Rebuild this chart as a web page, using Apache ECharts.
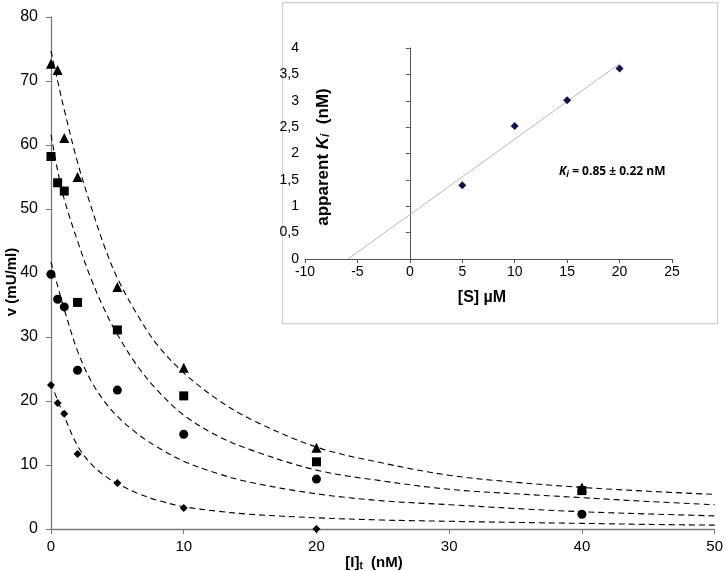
<!DOCTYPE html>
<html>
<head>
<meta charset="utf-8">
<script src="https://cdn.jsdelivr.net/npm/echarts@6/dist/echarts.min.js"></script>
<style>
html,body{margin:0;padding:0;background:#fff;}
#c{width:726px;height:571px;}
</style>
</head>
<body>
<div id="c"></div>
<script>
// ---- main plot data ----
const inhibX = [0, 0.5, 1, 2, 5, 10, 20, 40];
const triangleV = [72.7, 71.7, 61.1, 55.0, 37.8, 25.2, 12.7, 6.5];
const squareV = [58.2, 54.1, 52.8, 35.4, 31.1, 20.8, 10.5, 6.0];
const circleV = [39.8, 35.9, 34.7, 24.8, 21.7, 14.8, 7.8, 2.3];
const diamondX = [0, 0.5, 1, 2, 5, 10, 20];
const diamondV = [22.5, 19.7, 18.0, 11.7, 7.2, 3.3, 0.0];

// fitted curves
const curveX = [0, 0.5, 1, 2, 3, 4, 5, 6.5, 8, 10, 12.5, 15, 20, 25, 30, 35, 40, 45, 50];
const triangleFit = [74.7, 70.0, 65.5, 57.3, 50.5, 44.3, 39.2, 33.5, 28.8, 24.4, 20.3, 17.2, 12.8, 10.3, 8.4, 7.3, 6.5, 5.9, 5.4];
const squareFit = [61.6, 56.0, 51.5, 45.0, 39.2, 34.4, 30.4, 25.5, 21.7, 17.8, 14.6, 12.4, 9.2, 7.5, 6.2, 5.5, 4.9, 4.3, 3.8];
const circleFit = [41.7, 38.0, 34.3, 27.8, 23.2, 20.0, 17.6, 14.9, 12.8, 10.6, 8.7, 7.3, 5.5, 4.4, 3.8, 3.2, 2.7, 2.35, 2.05];
const diamondFit = [22.8, 20.1, 17.6, 13.0, 10.2, 8.4, 7.1, 5.6, 4.5, 3.5, 2.8, 2.3, 1.75, 1.4, 1.2, 1.03, 0.88, 0.72, 0.6];

// ---- inset data ----
const substrate = [5, 10, 15, 20];
const kiApparent = [1.4, 2.52, 3.01, 3.61];
const fitLineS = [-5.9, 20];
const fitLineKi = [0, 3.7];

const zip = (xs, ys) => xs.map((x, i) => [x, ys[i]]);
const FONT = 'Liberation Sans, Arial, sans-serif';
const AXC = '#7a7a7a';

const chart = echarts.init(document.getElementById('c'), null, {renderer: 'canvas'});

function pts(name, sym, size, xs, ys) {
  return {
    name, type: 'scatter', xAxisIndex: 0, yAxisIndex: 0,
    symbol: sym, symbolSize: size, clip: false, z: 5,
    itemStyle: {color: '#000', opacity: 1},
    data: zip(xs, ys)
  };
}
function fit(name, ys) {
  return {
    name, type: 'line', xAxisIndex: 0, yAxisIndex: 0,
    smooth: 0.35, showSymbol: false, symbol: 'none', z: 3,
    lineStyle: {color: '#000', width: 1.1, type: [6, 4]},
    data: zip(curveX, ys)
  };
}

const option = {
  animation: false,
  backgroundColor: '#fff',
  grid: [
    {left: 51, right: 10, top: 17, bottom: 42},
    {left: 305, right: 54, top: 48, bottom: 312, z: 20}
  ],
  xAxis: [
    {
      type: 'value', gridIndex: 0, min: 0, max: 50, interval: 10,
      splitLine: {show: false},
      axisLine: {lineStyle: {color: AXC, width: 1.3}},
      axisTick: {inside: false, length: 5, lineStyle: {color: AXC}},
      axisLabel: {color: '#000', fontFamily: FONT, fontSize: 15, margin: 10}
    },
    {
      type: 'value', gridIndex: 1, min: -10, max: 25, interval: 5,
      splitLine: {show: false}, z: 20,
      axisLine: {onZero: true, lineStyle: {color: '#555', width: 1}},
      axisTick: {inside: false, length: 4, lineStyle: {color: '#555'}},
      axisLabel: {color: '#000', fontFamily: FONT, fontSize: 14, margin: 6}
    }
  ],
  yAxis: [
    {
      type: 'value', gridIndex: 0, min: 0, max: 80, interval: 10,
      splitLine: {show: false},
      axisLine: {show: true, lineStyle: {color: AXC, width: 1.3}},
      axisTick: {show: true, inside: false, length: 5, lineStyle: {color: AXC}},
      axisLabel: {color: '#000', fontFamily: FONT, fontSize: 16, margin: 13}
    },
    {
      type: 'value', gridIndex: 1, min: 0, max: 4, interval: 0.5,
      splitLine: {show: false}, z: 20,
      axisLine: {show: true, onZero: true, lineStyle: {color: '#555', width: 1}},
      axisTick: {show: true, inside: false, length: 4, lineStyle: {color: '#555'}},
      axisLabel: {color: '#000', fontFamily: FONT, fontSize: 14, margin: 6,
        formatter: v => String(v).replace('.', ',')}
    }
  ],
  graphic: [
    {type: 'rect', left: 282, top: 2, z: -1, zlevel: 0,
      shape: {width: 435, height: 321},
      style: {fill: '#fff', stroke: '#cfcfcf', lineWidth: 1.2}},
    {type: 'text', x: 12, y: 282, rotation: Math.PI / 2, z: 10,
      style: {text: 'v (mU/ml)', fill: '#000', font: 'bold 15px ' + FONT,
        textAlign: 'center', textVerticalAlign: 'middle'}},
    {type: 'text', x: 374, y: 563, z: 10,
      style: {
        text: '{a|[I]}{s|t}{a|  (nM)}',
        textAlign: 'center', textVerticalAlign: 'middle',
        rich: {
          a: {fontFamily: FONT, fontWeight: 'bold', fontSize: 15, fill: '#000', color: '#000'},
          s: {fontFamily: FONT, fontWeight: 'bold', fontSize: 10, fill: '#000', color: '#000', verticalAlign: 'bottom', padding: [6, 0, 0, 0]}
        }
      }},
    {type: 'text', x: 323, y: 157, rotation: Math.PI / 2, z: 30,
      style: {
        text: '{a|apparent }{i|K}{si|i}{a|  (nM)}',
        textAlign: 'center', textVerticalAlign: 'middle',
        rich: {
          a: {fontFamily: FONT, fontWeight: 'bold', fontSize: 17, color: '#000'},
          i: {fontFamily: FONT, fontWeight: 'bold', fontStyle: 'italic', fontSize: 17, color: '#000'},
          si: {fontFamily: FONT, fontWeight: 'bold', fontStyle: 'italic', fontSize: 12, color: '#000', padding: [6, 0, 0, 0]}
        }
      }},
    {type: 'text', x: 482, y: 298, z: 30,
      style: {text: '[S] µM', fill: '#000', font: 'bold 16px ' + FONT,
        textAlign: 'center', textVerticalAlign: 'middle'}},
    {type: 'text', x: 559, y: 172, z: 30,
      style: {
        text: '{i|K}{si|i}{a| = 0.85 ± 0.22 nM}',
        textAlign: 'left', textVerticalAlign: 'middle',
        rich: {
          a: {fontFamily: 'Open Sans, ' + FONT, fontWeight: 'bold', fontSize: 12, color: '#000'},
          i: {fontFamily: 'Open Sans, ' + FONT, fontWeight: 'bold', fontStyle: 'italic', fontSize: 12, color: '#000'},
          si: {fontFamily: 'Open Sans, ' + FONT, fontWeight: 'bold', fontStyle: 'italic', fontSize: 9, color: '#000', padding: [4, 0, 0, 0]}
        }
      }}
  ],
  series: [
    fit('triangle fit', triangleFit),
    fit('square fit', squareFit),
    fit('circle fit', circleFit),
    fit('diamond fit', diamondFit),
    pts('triangle', 'triangle', 10, inhibX, triangleV),
    pts('square', 'rect', 9, inhibX, squareV),
    pts('circle', 'circle', 9, inhibX, circleV),
    pts('diamond', 'diamond', 8, diamondX, diamondV),
    {
      name: 'Ki fit', type: 'line', xAxisIndex: 1, yAxisIndex: 1, z: 25,
      showSymbol: false, symbol: 'none',
      lineStyle: {color: '#b8b8b8', width: 1},
      data: zip(fitLineS, fitLineKi)
    },
    {
      name: 'apparent Ki', type: 'scatter', xAxisIndex: 1, yAxisIndex: 1, z: 26,
      symbol: 'diamond', symbolSize: 8,
      itemStyle: {color: '#12124a', opacity: 1},
      data: zip(substrate, kiApparent)
    }
  ]
};
chart.setOption(option);
</script>
</body>
</html>
